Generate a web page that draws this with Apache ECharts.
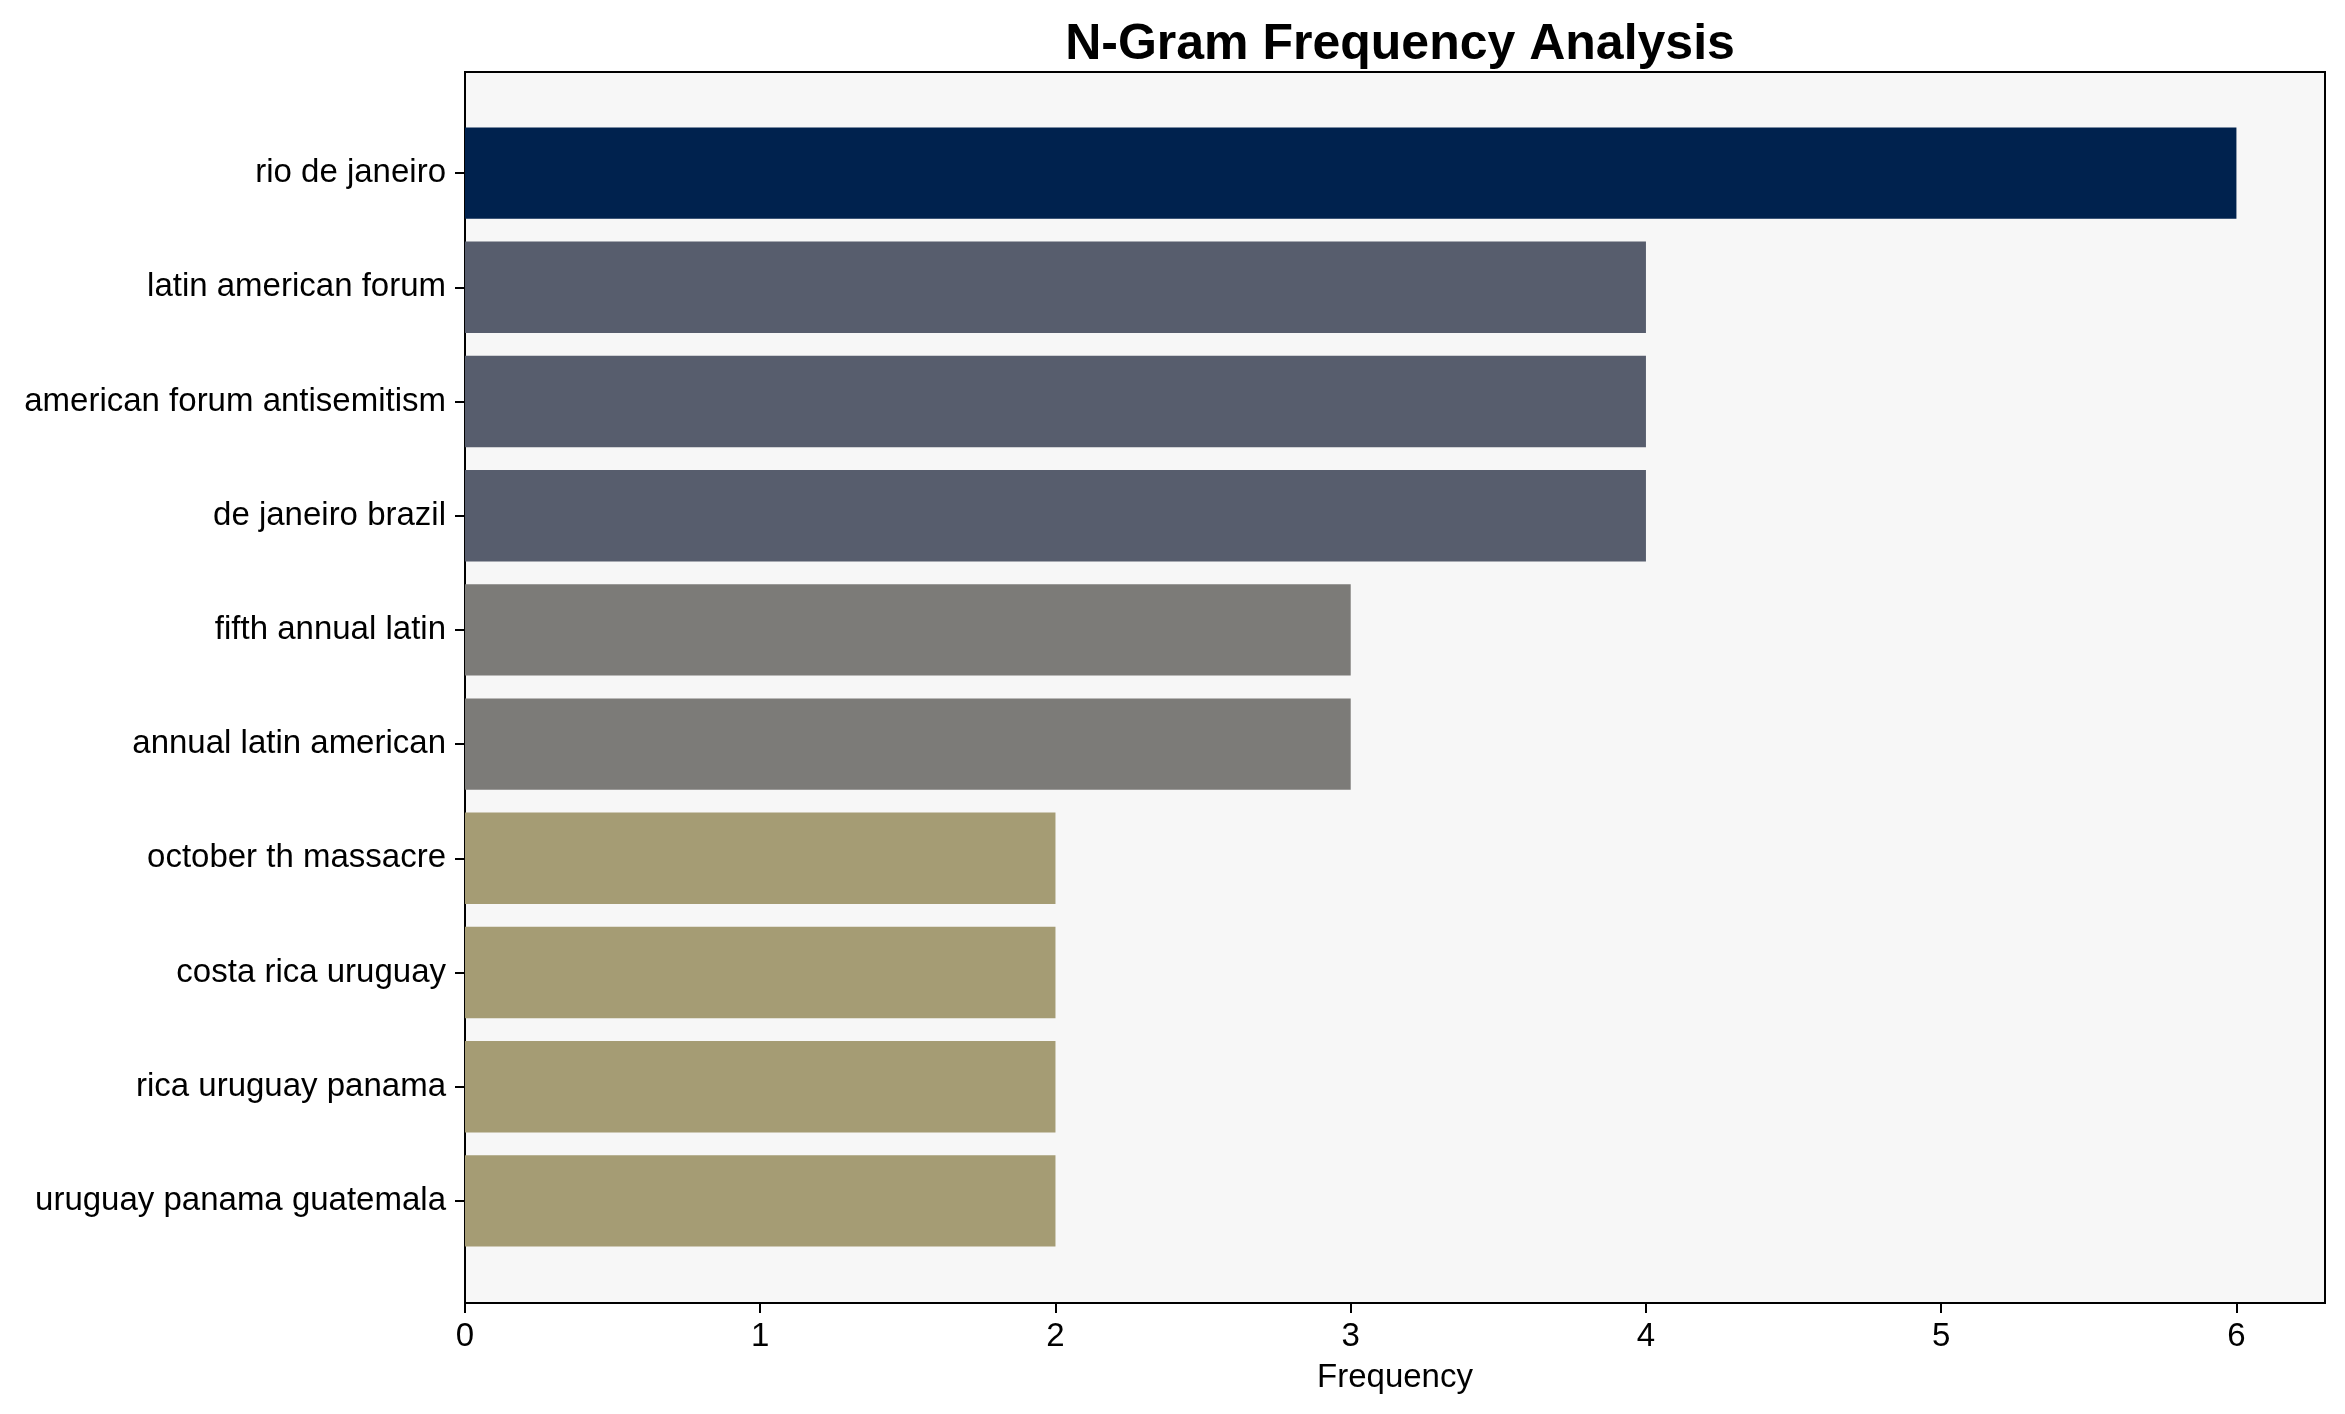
<!DOCTYPE html>
<html>
<head>
<meta charset="utf-8">
<script src="https://cdn.jsdelivr.net/npm/echarts@6/dist/echarts.min.js"></script>
<style>html,body{margin:0;padding:0;background:#fff}#c{width:2345px;height:1414px}</style>
</head>
<body>
<div id="c"></div>
<script>
const categories = ["rio de janeiro","latin american forum","american forum antisemitism","de janeiro brazil","fifth annual latin","annual latin american","october th massacre","costa rica uruguay","rica uruguay panama","uruguay panama guatemala"];
const values = [6,4,4,4,3,3,2,2,2,2];
const barColors = ["#00224e","#575d6d","#575d6d","#575d6d","#7c7b78","#7c7b78","#a59c74","#a59c74","#a59c74","#a59c74"];
const xTicks = [0,1,2,3,4,5,6];

const font = "Liberation Sans, Arial, sans-serif";
const chart = echarts.init(document.getElementById('c'), null, {renderer:'canvas'});
chart.setOption({
  animation:false,
  backgroundColor:'#ffffff',
  title:{text:'N-Gram Frequency Analysis', left:1395, top:15, textAlign:'center',
    textStyle:{fontFamily:font, fontWeight:'bold', fontSize:50, color:'#000'}},
  grid:[
    {left:465, right:20, top:72, bottom:111, show:true, backgroundColor:'#f7f7f7', borderColor:'#000', borderWidth:2, containLabel:false},
    {left:465, right:20, top:116, bottom:156, containLabel:false}
  ],
  xAxis:[
    {gridIndex:0, type:'value', min:0, max:6.3, interval:1,
      axisLine:{show:false}, splitLine:{show:false},
      axisTick:{show:true, length:10, lineStyle:{color:'#000', width:2}, customValues:xTicks},
      axisLabel:{fontFamily:font, fontSize:33, color:'#000', margin:17, customValues:xTicks,
        formatter:v=>String(v)},
      name:'Frequency', nameLocation:'middle', nameGap:58,
      nameTextStyle:{fontFamily:font, fontSize:33, color:'#000'}},
    {gridIndex:1, type:'value', min:0, max:6.3, show:false}
  ],
  yAxis:[
    {gridIndex:0, type:'value', show:false},
    {gridIndex:1, type:'category', data:categories, inverse:true,
      axisLine:{show:false}, splitLine:{show:false},
      axisTick:{show:true, alignWithLabel:true, length:10, lineStyle:{color:'#000', width:2}},
      axisLabel:{fontFamily:font, fontSize:33, color:'#000', margin:19, padding:[18,0,0,0]}}
  ],
  series:[{
    type:'bar', xAxisIndex:1, yAxisIndex:1, barWidth:'80%',
    data: values.map((v,i)=>({value:v, itemStyle:{color:barColors[i]}}))
  }]
});
</script>
</body>
</html>
